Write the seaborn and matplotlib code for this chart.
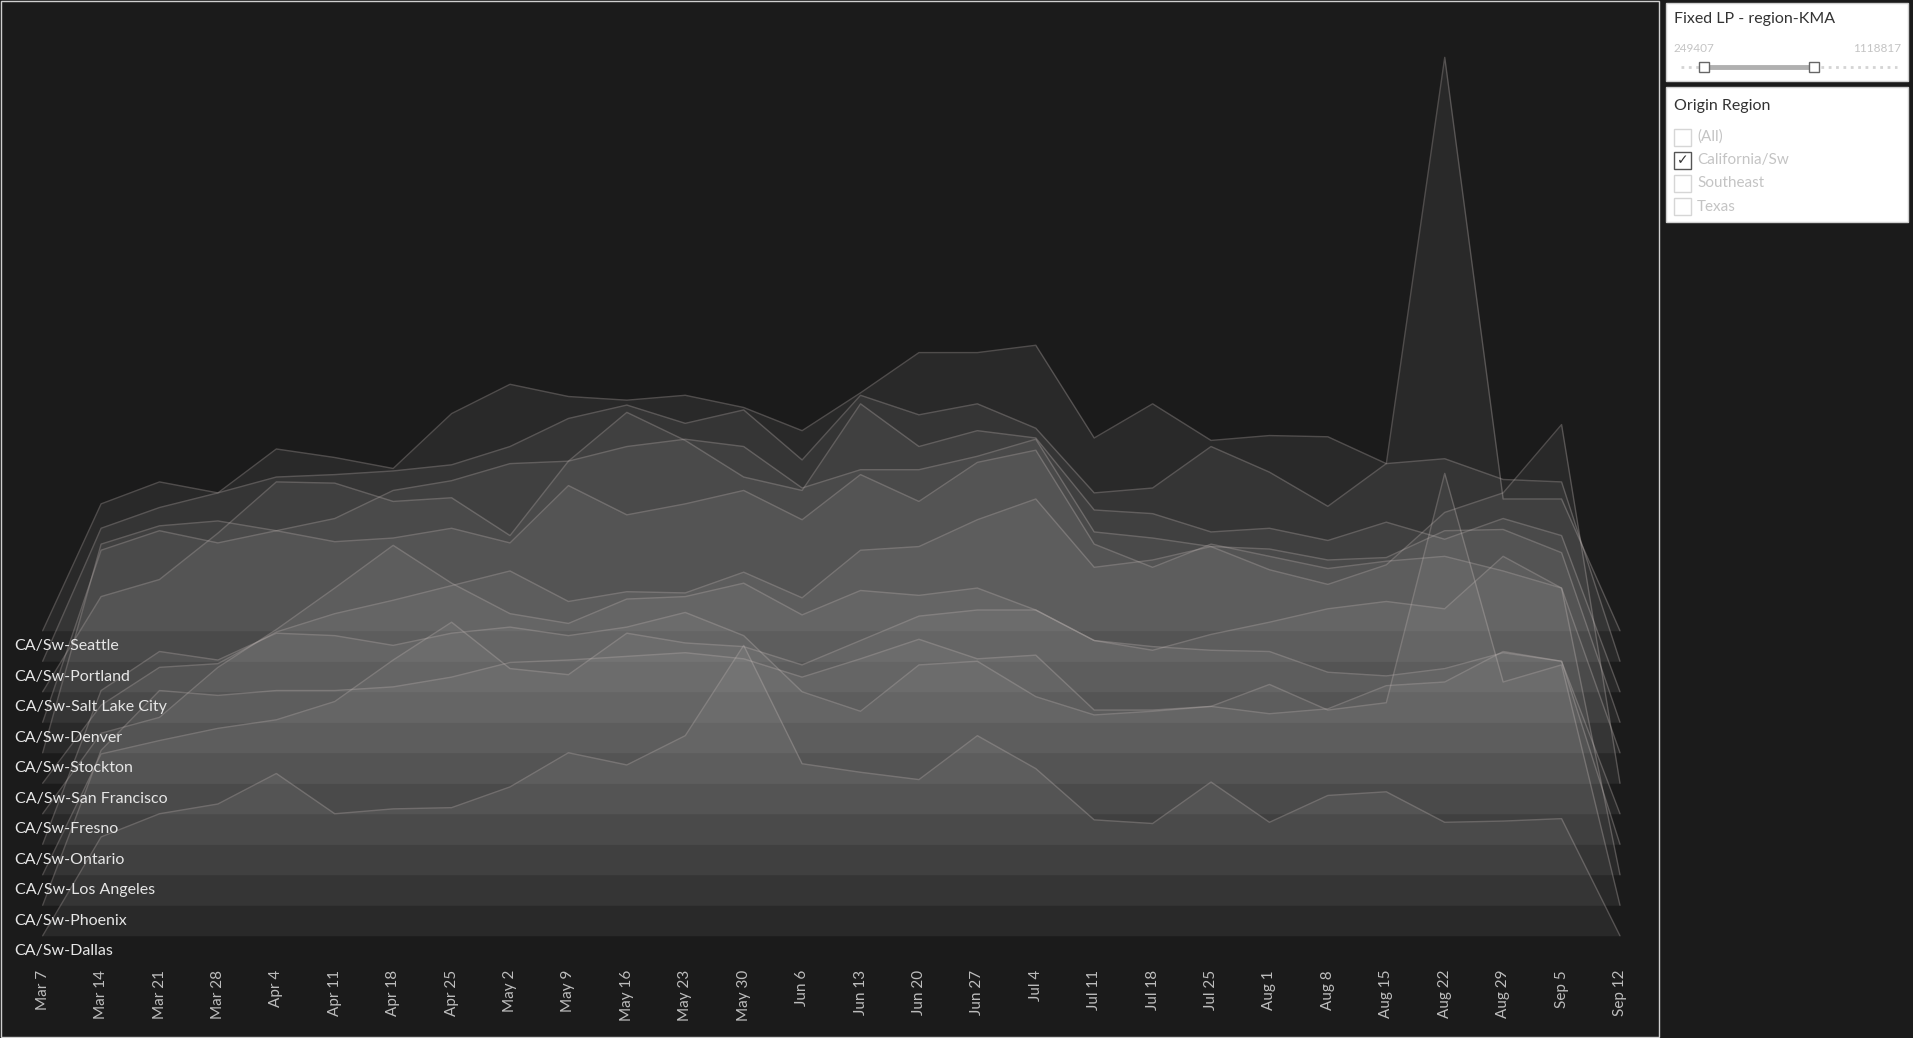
import numpy as np
import matplotlib
matplotlib.use("Agg")
import matplotlib.pyplot as plt
import seaborn as sns
from matplotlib.patches import Rectangle

# weeks on the x axis
weeks = ["Mar 7", "Mar 14", "Mar 21", "Mar 28", "Apr 4", "Apr 11", "Apr 18", "Apr 25",
         "May 2", "May 9", "May 16", "May 23", "May 30", "Jun 6", "Jun 13", "Jun 20",
         "Jun 27", "Jul 4", "Jul 11", "Jul 18", "Jul 25", "Aug 1", "Aug 8", "Aug 15",
         "Aug 22", "Aug 29", "Sep 5", "Sep 12"]

lanes = ["CA/Sw-Seattle", "CA/Sw-Portland", "CA/Sw-Salt Lake City", "CA/Sw-Denver",
         "CA/Sw-Stockton", "CA/Sw-San Francisco", "CA/Sw-Fresno", "CA/Sw-Ontario",
         "CA/Sw-Los Angeles", "CA/Sw-Phoenix", "CA/Sw-Dallas"]

# weekly volume per lane (relative units)
seattle = [0, 104, 122, 113, 149, 142, 133, 178, 202, 192, 189, 193, 183, 164, 195, 228, 228,
           234, 158, 186, 156, 160, 159, 137, 470, 108, 108, 0]
portland = [0, 109, 126, 138, 151, 153, 156, 161, 176, 199, 210, 195, 206, 165, 218, 202, 211,
            191, 138, 142, 176, 155, 127, 162, 166, 149, 147, 0]
salt_lake = [0, 78, 92, 130, 172, 171, 156, 159, 128, 189, 229, 206, 176, 165, 236, 201, 214,
             208, 149, 146, 131, 134, 124, 139, 125, 142, 128, 0]
denver = [0, 141, 157, 147, 157, 167, 190, 198, 212, 214, 226, 232, 226, 192, 207, 207, 218,
          232, 156, 151, 144, 142, 133, 135, 157, 158, 139, 0]
stockton = [0, 171, 186, 190, 182, 173, 176, 184, 172, 219, 195, 204, 215, 191, 228, 206, 238,
            248, 171, 152, 171, 161, 151, 157, 161, 149, 135, 0]
san_francisco = [0, 64, 95, 98, 124, 139, 150, 162, 174, 149, 157, 156, 173, 152, 191, 194, 216,
                 233, 177, 183, 194, 175, 163, 179, 222, 238, 294, 0]
fresno = [0, 66, 79, 120, 151, 185, 220, 189, 164, 156, 176, 178, 189, 163, 183, 179, 185,
          167, 142, 137, 134, 133, 116, 113, 119, 132, 125, 0]
ontario = [0, 126, 158, 151, 173, 171, 163, 173, 178, 171, 178, 190, 171, 125, 109, 147, 150,
           121, 106, 109, 113, 107, 111, 130, 133, 158, 150, 0]
los_angeles = [0, 99, 110, 120, 127, 142, 176, 207, 169, 164, 198, 190, 187, 172, 192, 212, 217,
               217, 192, 184, 197, 207, 218, 224, 218, 261, 235, 0]
phoenix = [0, 127, 176, 172, 176, 176, 179, 187, 199, 201, 204, 207, 202, 187, 202, 218, 202,
           205, 160, 160, 163, 181, 160, 166, 354, 183, 197, 0]
dallas = [0, 81, 100, 108, 133, 100, 104, 105, 122, 150, 140, 164, 238, 141, 134, 128, 164,
          137, 95, 92, 126, 93, 115, 118, 93, 94, 96, 0]

series = [seattle, portland, salt_lake, denver, stockton, san_francisco, fresno,
          ontario, los_angeles, phoenix, dallas]

# slider / filter card texts
slider_min, slider_max = "249407", "1118817"
filter_items = ["(All)", "California/Sw", "Southeast", "Texas"]
filter_checked = [False, True, False, False]

BG = "#1b1b1b"
sns.set_theme(style="dark")
plt.rcParams['font.family'] = ['Lato', 'DejaVu Sans']

W, H = 1913, 1038
fig = plt.figure(figsize=(W / 100, H / 100), dpi=100, facecolor=BG)

# main ridgeline pane
ax_bottom = 962.6
ax = fig.add_axes([0, 1 - ax_bottom / H, 1659 / W, ax_bottom / H])
ax.set_facecolor(BG)
step = 25  # vertical spacing between lanes
x = np.arange(len(weeks))
n = len(lanes)
for i, (name, vals) in enumerate(zip(lanes, series)):
    off = (n - 1 - i) * step
    y = off + np.array(vals)
    ax.fill_between(x, off, y, color="#bebebe", alpha=0.085, lw=0, zorder=2 + i)
    sns.lineplot(x=x, y=y, ax=ax, color="#c8bebc", alpha=0.3, lw=1.0, zorder=2.5 + i,
                 legend=False)
    ax.text(-0.48, off - 12.5, name, ha="left", va="center", color="#e6e6e6",
            fontsize=11.5, zorder=50)

px = (1620 - 42.7) / 27
ax.set_xlim(-42.7 / px, (1659 - 42.7) / px)
ax.set_ylim(-22, 767)
ax.set_xticks(x)
ax.set_xticklabels(weeks, rotation=90, color="#bdbdbd", fontsize=11)
ax.tick_params(axis="x", length=0, pad=5.3)
ax.set_yticks([])
ax.set_xlabel("")
ax.set_ylabel("")
for s in ax.spines.values():
    s.set_visible(False)
ax.grid(False)

# overlay in pixel space for the panel frame and the side cards
ov = fig.add_axes([0, 0, 1, 1], zorder=10)
ov.set_xlim(0, W)
ov.set_ylim(H, 0)
ov.axis("off")
ov.patch.set_alpha(0)

ov.add_patch(Rectangle((0.5, 0.5), 1658, 1036, fill=False, ec="#cfcfcf", lw=1))

ov.add_patch(Rectangle((1666, 2.5), 242, 78, fc="white", ec="#d0d0d0", lw=1))
ov.text(1674, 19, "Fixed LP - region-KMA", fontsize=11.5, color="#333333", va="center")
ov.text(1673, 49, slider_min, fontsize=8.5, color="#c4c4c4", va="center")
ov.text(1901, 49, slider_max, fontsize=8.5, color="#c4c4c4", va="center", ha="right")
ov.plot([1681, 1897], [67, 67], color="#d4d4d4", lw=2, ls=":")
ov.plot([1704, 1814], [67, 67], color="#b0b0b0", lw=3.5, solid_capstyle="butt")
ov.plot([1704, 1814], [67, 67], ls="none", marker="s", ms=7.5, mfc="white",
        mec="#666666", mew=1)

ov.add_patch(Rectangle((1666, 86.6), 242, 135.5, fc="white", ec="#d0d0d0", lw=1))
ov.text(1674, 106, "Origin Region", fontsize=11.5, color="#333333", va="center")
for k, (item, chk) in enumerate(zip(filter_items, filter_checked)):
    cy = 137 + k * 23.2
    ov.add_patch(Rectangle((1674, cy - 8.5), 17, 17, fc="white",
                           ec="#555555" if chk else "#d6d6d6", lw=1))
    if chk:
        ov.text(1682.5, cy, "\u2713", ha="center", va="center", fontsize=10,
                color="#333333", family=["DejaVu Sans"])
    ov.text(1697, cy, item, fontsize=11, color="#c4c4c4", va="center")

fig.savefig("out.png", dpi=100, facecolor=BG)
